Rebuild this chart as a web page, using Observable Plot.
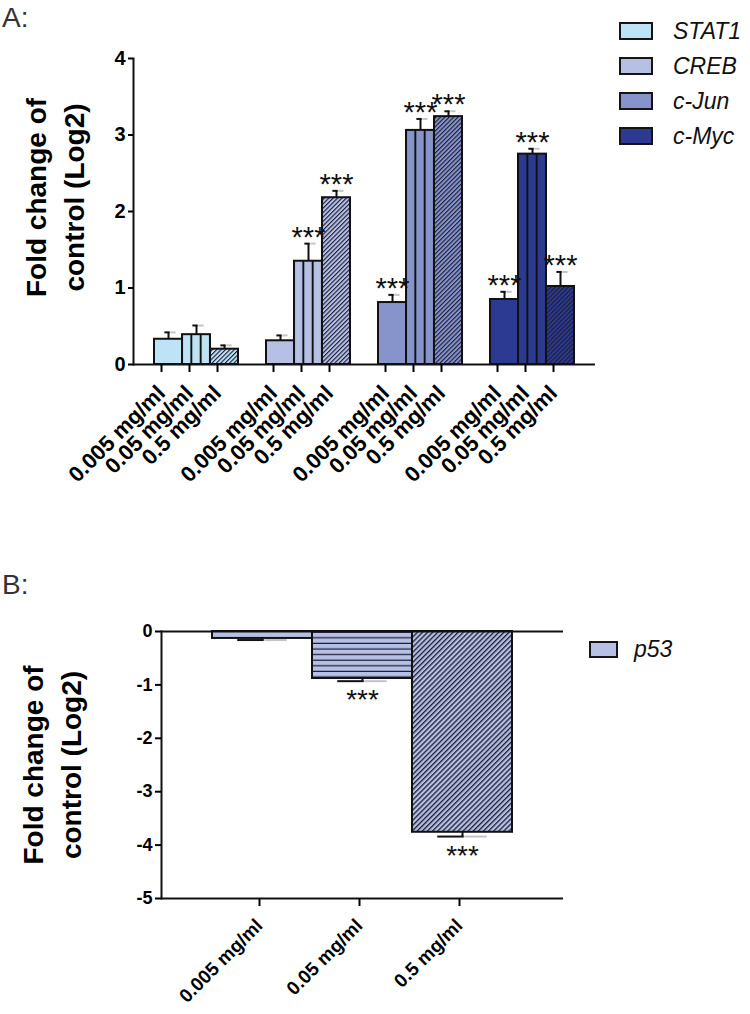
<!DOCTYPE html>
<html><head><meta charset="utf-8">
<script src="https://cdn.jsdelivr.net/npm/d3@7"></script>
<script src="https://cdn.jsdelivr.net/npm/@observablehq/plot@0.6"></script>
<style>
body{margin:0;background:#fff;}
#page{position:relative;width:750px;height:1014px;overflow:hidden;font-family:"Liberation Sans",Arial,sans-serif;}
#page svg{position:absolute;left:0;overflow:visible;}
.panel{position:absolute;left:2px;font-family:"Liberation Sans Narrow","Liberation Sans",sans-serif;font-size:28px;line-height:1;color:#333;}
.item{position:absolute;display:flex;align-items:center;}
.sw{box-sizing:border-box;border:2px solid #151515;}
.lab{font-style:italic;font-size:23px;color:#111;white-space:nowrap;}
</style>
</head><body>
<div id="page">
  <div class="panel" style="top:4px">A:</div>
  <div class="panel" style="top:571px">B:</div>
</div>
<script>
// ---------- data ----------
const genesA = ["STAT1", "CREB", "c-Jun", "c-Myc"];
const doses = ["0.005 mg/ml", "0.05 mg/ml", "0.5 mg/ml"];
const colorsA = ["#bde3f5", "#b5c0e4", "#8794cc", "#2c3a92"];
const meanSTAT1 = [0.33, 0.39, 0.20];
const semSTAT1  = [0.09, 0.12, 0.05];
const sigSTAT1  = [false, false, false];
const meanCREB  = [0.31, 1.35, 2.18];
const semCREB   = [0.07, 0.23, 0.09];
const sigCREB   = [false, true, true];
const meanJun   = [0.81, 3.06, 3.24];
const semJun    = [0.10, 0.15, 0.07];
const sigJun    = [true, true, true];
const meanMyc   = [0.85, 2.75, 1.02];
const semMyc    = [0.10, 0.07, 0.19];
const sigMyc    = [true, true, true];
const yTicksA   = [0, 1, 2, 3, 4];

const geneB = "p53";
const colorB = "#b5c0e4";
const meanP53 = [-0.13, -0.88, -3.76];
const semP53  = [0.03, 0.05, 0.08];
const sigP53  = [false, true, true];
const yTicksB = [0, -1, -2, -3, -4, -5];

const yTitle = "Fold change of\ncontrol (Log2)";
const starText = "***";

// ---------- build tables ----------
const meansA = [meanSTAT1, meanCREB, meanJun, meanMyc];
const semsA = [semSTAT1, semCREB, semJun, semMyc];
const sigsA = [sigSTAT1, sigCREB, sigJun, sigMyc];
const rowsA = [];
const domainA = [];
const realKeysA = [];
genesA.forEach((g, gi) => {
  if (gi > 0) domainA.push("gap" + gi);
  doses.forEach((d, di) => {
    const key = g + "|" + d;
    domainA.push(key); realKeysA.push(key);
    const fill = di === 0 ? colorsA[gi] : di === 1 ? `url(#vA${gi})` : `url(#dA${gi})`;
    rowsA.push({key, gene: g, dose: d, mean: meansA[gi][di], hi: meansA[gi][di] + semsA[gi][di], sig: sigsA[gi][di], fill});
  });
});
const rowsB = doses.map((d, di) => ({
  dose: d, mean: meanP53[di], lo: meanP53[di] - semP53[di], sig: sigP53[di],
  fill: di === 0 ? colorB : di === 1 ? "url(#hB)" : "url(#dB)"
}));

const font = "Liberation Sans, Arial, sans-serif";

// ---------- Panel A ----------
const WA = 750, mLA = 133, mRA = 155, padOutA = 0.535;
const bwA = (WA - mLA - mRA) / (domainA.length + 2 * padOutA);
const plotA = Plot.plot({
  width: WA, height: 510,
  marginLeft: mLA, marginRight: mRA, marginTop: 58, marginBottom: 146,
  x: {domain: domainA, paddingInner: 0, paddingOuter: padOutA},
  y: {domain: [0, 4]},
  color: {type: "identity"},
  style: {fontFamily: font, color: "#000", background: "transparent"},
  marks: [
    Plot.barY(rowsA, {x: "key", y: "mean", fill: "fill", stroke: "#111", strokeWidth: 2}),
    Plot.ruleX(rowsA, {x: "key", y1: "mean", y2: "hi", stroke: "#111", strokeWidth: 2}),
    Plot.tickY(rowsA, {x: "key", y: "hi", stroke: "#111", strokeWidth: 2, insetLeft: bwA / 2 - 4, insetRight: bwA / 2 - 2}),
    Plot.tickY(rowsA, {x: "key", y: "hi", stroke: "#c4c4c4", strokeWidth: 2, insetLeft: bwA / 2 + 2, insetRight: bwA / 2 - 8}),
    Plot.text(rowsA.filter(d => d.sig), {x: "key", y: "hi", text: () => starText, fontSize: 29, lineAnchor: "bottom", dy: 3, fill: "#111"}),
    Plot.ruleY([0], {stroke: "#111", strokeWidth: 2}),
    Plot.frame({anchor: "left", stroke: "#111", strokeWidth: 2}),
    Plot.axisY({ticks: yTicksA, tickFormat: d => String(d), tickSize: 5, tickPadding: 3, fontSize: 20, fontWeight: "bold", strokeWidth: 2, label: null}),
    Plot.axisX({ticks: realKeysA, tickFormat: k => k.split("|")[1], tickRotate: -45, tickSize: 8, tickPadding: 17, dx: -7, fontSize: 22, fontWeight: "bold", strokeWidth: 2, label: null}),
    Plot.text([yTitle], {text: d => d, frameAnchor: "left", textAnchor: "middle", rotate: -90, dx: -81, dy: -14, fontSize: 28, fontWeight: "bold", lineHeight: 1.38})
  ]
});
plotA.style.top = "0px";

// pattern defs for A
const defsA = d3.select(plotA).insert("defs", ":first-child");
colorsA.forEach((c, gi) => {
  const pv = defsA.append("pattern").attr("id", `vA${gi}`)
    .attr("patternUnits", "objectBoundingBox").attr("patternContentUnits", "objectBoundingBox")
    .attr("width", 1 / 3).attr("height", 1);
  pv.append("rect").attr("width", 1 / 3).attr("height", 1).attr("fill", c);
  pv.append("rect").attr("width", 0.035).attr("height", 1).attr("fill", "#111");
  pv.append("rect").attr("x", 1 / 3 - 0.035).attr("width", 0.035).attr("height", 1).attr("fill", "#111");
  const pd = defsA.append("pattern").attr("id", `dA${gi}`)
    .attr("patternUnits", "userSpaceOnUse").attr("width", 3.1).attr("height", 3.1)
    .attr("patternTransform", "rotate(45)");
  pd.append("rect").attr("width", 3.1).attr("height", 3.1).attr("fill", c);
  pd.append("rect").attr("width", 1.1).attr("height", 3.1).attr("fill", "#1c1c33");
});

// ---------- Panel B ----------
const WB = 750, mLB = 161, mRB = 187, padOutB = 0.5;
const bwB = (WB - mLB - mRB) / (doses.length + 2 * padOutB);
const plotB = Plot.plot({
  width: WB, height: 454,
  marginLeft: mLB, marginRight: mRB, marginTop: 71, marginBottom: 116,
  x: {domain: doses, paddingInner: 0, paddingOuter: padOutB},
  y: {domain: [-5, 0]},
  color: {type: "identity"},
  style: {fontFamily: font, color: "#000", background: "transparent"},
  marks: [
    Plot.barY(rowsB, {x: "dose", y1: 0, y2: "mean", fill: "fill", stroke: "#111", strokeWidth: 2}),
    Plot.ruleX(rowsB, {x: "dose", y1: "mean", y2: "lo", stroke: "#111", strokeWidth: 2}),
    Plot.tickY(rowsB, {x: "dose", y: "lo", stroke: "#111", strokeWidth: 2, insetLeft: bwB / 2 - 25, insetRight: bwB / 2 - 2}),
    Plot.tickY(rowsB, {x: "dose", y: "lo", stroke: "#c4c4c4", strokeWidth: 2, insetLeft: bwB / 2 + 2, insetRight: bwB / 2 - 25}),
    Plot.text(rowsB.filter(d => d.sig), {x: "dose", y: "lo", text: () => starText, fontSize: 28, lineAnchor: "bottom", dy: 28, fill: "#111"}),
    Plot.ruleY([0, -5], {stroke: "#111", strokeWidth: 2}),
    Plot.frame({anchor: "left", stroke: "#111", strokeWidth: 2}),
    Plot.axisY({ticks: yTicksB, tickFormat: d => String(d), tickSize: 6, tickPadding: 3, fontSize: 18, fontWeight: "bold", strokeWidth: 2, label: null}),
    Plot.axisX({tickRotate: -45, tickSize: 8, tickPadding: 16, dx: -3, fontSize: 19, fontWeight: "bold", strokeWidth: 2, label: null}),
    Plot.text([yTitle], {text: d => d, frameAnchor: "left", textAnchor: "middle", rotate: -90, dx: -112, dy: 0, fontSize: 28, fontWeight: "bold", lineHeight: 1.38})
  ]
});
plotB.style.top = "560px";
const defsB = d3.select(plotB).insert("defs", ":first-child");
const ph = defsB.append("pattern").attr("id", "hB")
  .attr("patternUnits", "userSpaceOnUse").attr("width", 10).attr("height", 5.6);
ph.append("rect").attr("width", 10).attr("height", 5.6).attr("fill", colorB);
ph.append("rect").attr("y", 4.4).attr("width", 10).attr("height", 1.8).attr("fill", "#1c1c33");
const pdB = defsB.append("pattern").attr("id", "dB")
  .attr("patternUnits", "userSpaceOnUse").attr("width", 3.6).attr("height", 3.6)
  .attr("patternTransform", "rotate(45)");
pdB.append("rect").attr("width", 3.6).attr("height", 3.6).attr("fill", colorB);
pdB.append("rect").attr("width", 1.3).attr("height", 3.6).attr("fill", "#1c1c33");

const page = document.getElementById("page");
page.appendChild(plotA);
page.appendChild(plotB);

// ---------- legends ----------
function legendItem(label, color, left, top, sw, sh, gap) {
  const it = document.createElement("div");
  it.className = "item";
  it.style.left = left + "px"; it.style.top = top + "px"; it.style.height = sh + "px";
  const s = document.createElement("div");
  s.className = "sw"; s.style.width = sw + "px"; s.style.height = sh + "px"; s.style.background = color;
  const t = document.createElement("span");
  t.className = "lab"; t.textContent = label; t.style.marginLeft = gap + "px";
  it.appendChild(s); it.appendChild(t);
  page.appendChild(it);
}
genesA.forEach((g, i) => legendItem(g, colorsA[i], 619, 22 + 35 * i, 34, 18, 20));
legendItem(geneB, colorB, 589, 641, 29, 17, 16);
</script>
</body></html>
